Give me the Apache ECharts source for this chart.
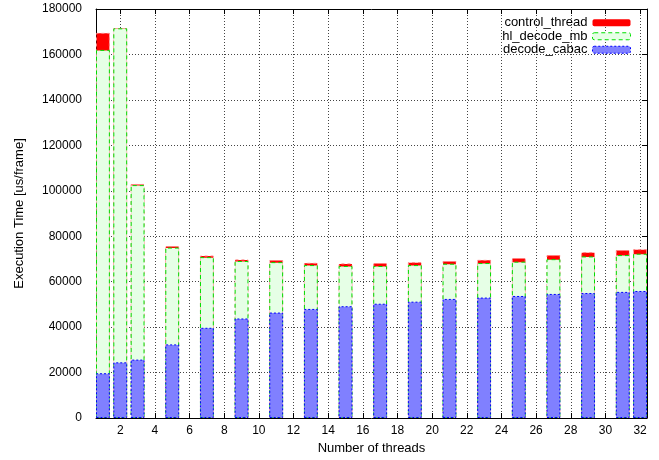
<!DOCTYPE html>
<html>
<head>
<meta charset="utf-8">
<script src="https://cdn.jsdelivr.net/npm/echarts@6/dist/echarts.min.js"></script>
<style>
  html, body { margin: 0; padding: 0; background: #fff; }
  #chart { width: 659px; height: 460px; }
</style>
</head>
<body>
<div id="chart"></div>
<script>
// thread counts that have a bar
const threads = [1, 2, 3, 5, 7, 9, 11, 13, 15, 17, 19, 21, 23, 25, 27, 29, 31, 32];
// us/frame
const decodeCabac = [19700, 24500, 25700, 32400, 39700, 43800, 46400, 48000, 49200, 50300, 51200, 52400, 53000, 53700, 54600, 55000, 55500, 55900];
const hlDecodeMb = [142300, 147000, 76800, 42600, 31100, 25300, 22200, 19300, 17700, 16600, 16100, 15500, 15200, 15100, 15300, 16100, 16200, 16400];
const controlThread = [7500, 100, 500, 700, 700, 700, 900, 1000, 1150, 1300, 1300, 1200, 1400, 1600, 1800, 1900, 2200, 2000];
const xTicks = [2, 4, 6, 8, 10, 12, 14, 16, 18, 20, 22, 24, 26, 28, 30, 32];

const font = "'Liberation Sans', Arial, sans-serif";

// gnuplot style: each box drawn from zero up to the running total, biggest first
let cumHl = decodeCabac.map((v, i) => v + hlDecodeMb[i]);
let cumAll = cumHl.map((v, i) => v + controlThread[i]);

function pairs(vals) {
  return threads.map((t, i) => [t, vals[i]]);
}

const cabacStyle = { color: "#8080ff", borderColor: "#0000ff", borderWidth: 1, borderType: [2, 2] };
const hlStyle = { color: "#e6ffe6", borderColor: "#00e000", borderWidth: 1, borderType: [4, 3] };
const ctrlStyle = { color: "#ff0000", borderColor: "#ff8080", borderWidth: 1, borderType: [3, 3] };

let chart = echarts.init(document.getElementById("chart"), null, { renderer: "canvas" });

let option = {
  animation: false,
  textStyle: { fontFamily: font },
  grid: { left: 96, right: 12, top: 9, bottom: 39 },
  legend: {
    orient: "vertical",
    right: 23,
    top: 11,
    align: "right",
    itemWidth: 38,
    itemHeight: 7,
    itemGap: 0,
    textStyle: { fontSize: 13, color: "#000", fontFamily: font, lineHeight: 13.5 },
    data: [
      { name: "control_thread", itemStyle: { color: "#ff0000", borderWidth: 0 } },
      { name: "hl_decode_mb", itemStyle: hlStyle },
      { name: "decode_cabac", itemStyle: cabacStyle },
    ],
  },
  xAxis: [
    {
      type: "value",
      min: 0.6,
      max: 32.4,
      name: "Number of threads",
      nameLocation: "middle",
      nameGap: 24,
      nameTextStyle: { fontSize: 13, color: "#000", fontFamily: font },
      axisLine: { onZero: false, lineStyle: { color: "#000", width: 1 } },
      axisTick: { inside: true, length: 5, customValues: xTicks, lineStyle: { color: "#000" } },
      axisLabel: { customValues: xTicks, fontSize: 12, color: "#000", margin: 7, fontFamily: font },
      splitLine: { show: true, lineStyle: { color: "#444", type: [1, 2], width: 1 } },
    },
    {
      type: "value",
      position: "top",
      min: 0.6,
      max: 32.4,
      axisLine: { onZero: false, lineStyle: { color: "#000", width: 1 } },
      axisTick: { inside: true, length: 5, customValues: xTicks, lineStyle: { color: "#000" } },
      axisLabel: { show: false },
      splitLine: { show: false },
    },
  ],
  yAxis: [
    {
      type: "value",
      min: 0,
      max: 180000,
      interval: 20000,
      name: "Execution Time [us/frame]",
      nameLocation: "middle",
      nameGap: 70,
      nameTextStyle: { fontSize: 13, color: "#000", fontFamily: font },
      axisLine: { show: true, onZero: false, lineStyle: { color: "#000", width: 1 } },
      axisTick: { show: true, inside: true, length: 5, lineStyle: { color: "#000" } },
      axisLabel: {
        fontSize: 12,
        color: "#000",
        margin: 14,
        fontFamily: font,
        formatter: (v) => String(v),
      },
      splitLine: { show: true, lineStyle: { color: "#444", type: [1, 2], width: 1 } },
    },
    {
      type: "value",
      position: "right",
      min: 0,
      max: 180000,
      interval: 20000,
      axisLine: { show: true, onZero: false, lineStyle: { color: "#000", width: 1 } },
      axisTick: { show: true, inside: true, length: 5, lineStyle: { color: "#000" } },
      axisLabel: { show: false },
      splitLine: { show: false },
    },
  ],
  series: [
    {
      name: "control_thread",
      type: "bar",
      barWidth: "80%",
      barGap: "-100%",
      itemStyle: ctrlStyle,
      data: pairs(cumAll),
    },
    {
      name: "hl_decode_mb",
      type: "bar",
      barWidth: "80%",
      barGap: "-100%",
      itemStyle: hlStyle,
      data: pairs(cumHl),
    },
    {
      name: "decode_cabac",
      type: "bar",
      barWidth: "80%",
      barGap: "-100%",
      itemStyle: cabacStyle,
      data: pairs(decodeCabac),
    },
  ],
};

chart.setOption(option);
</script>
</body>
</html>
